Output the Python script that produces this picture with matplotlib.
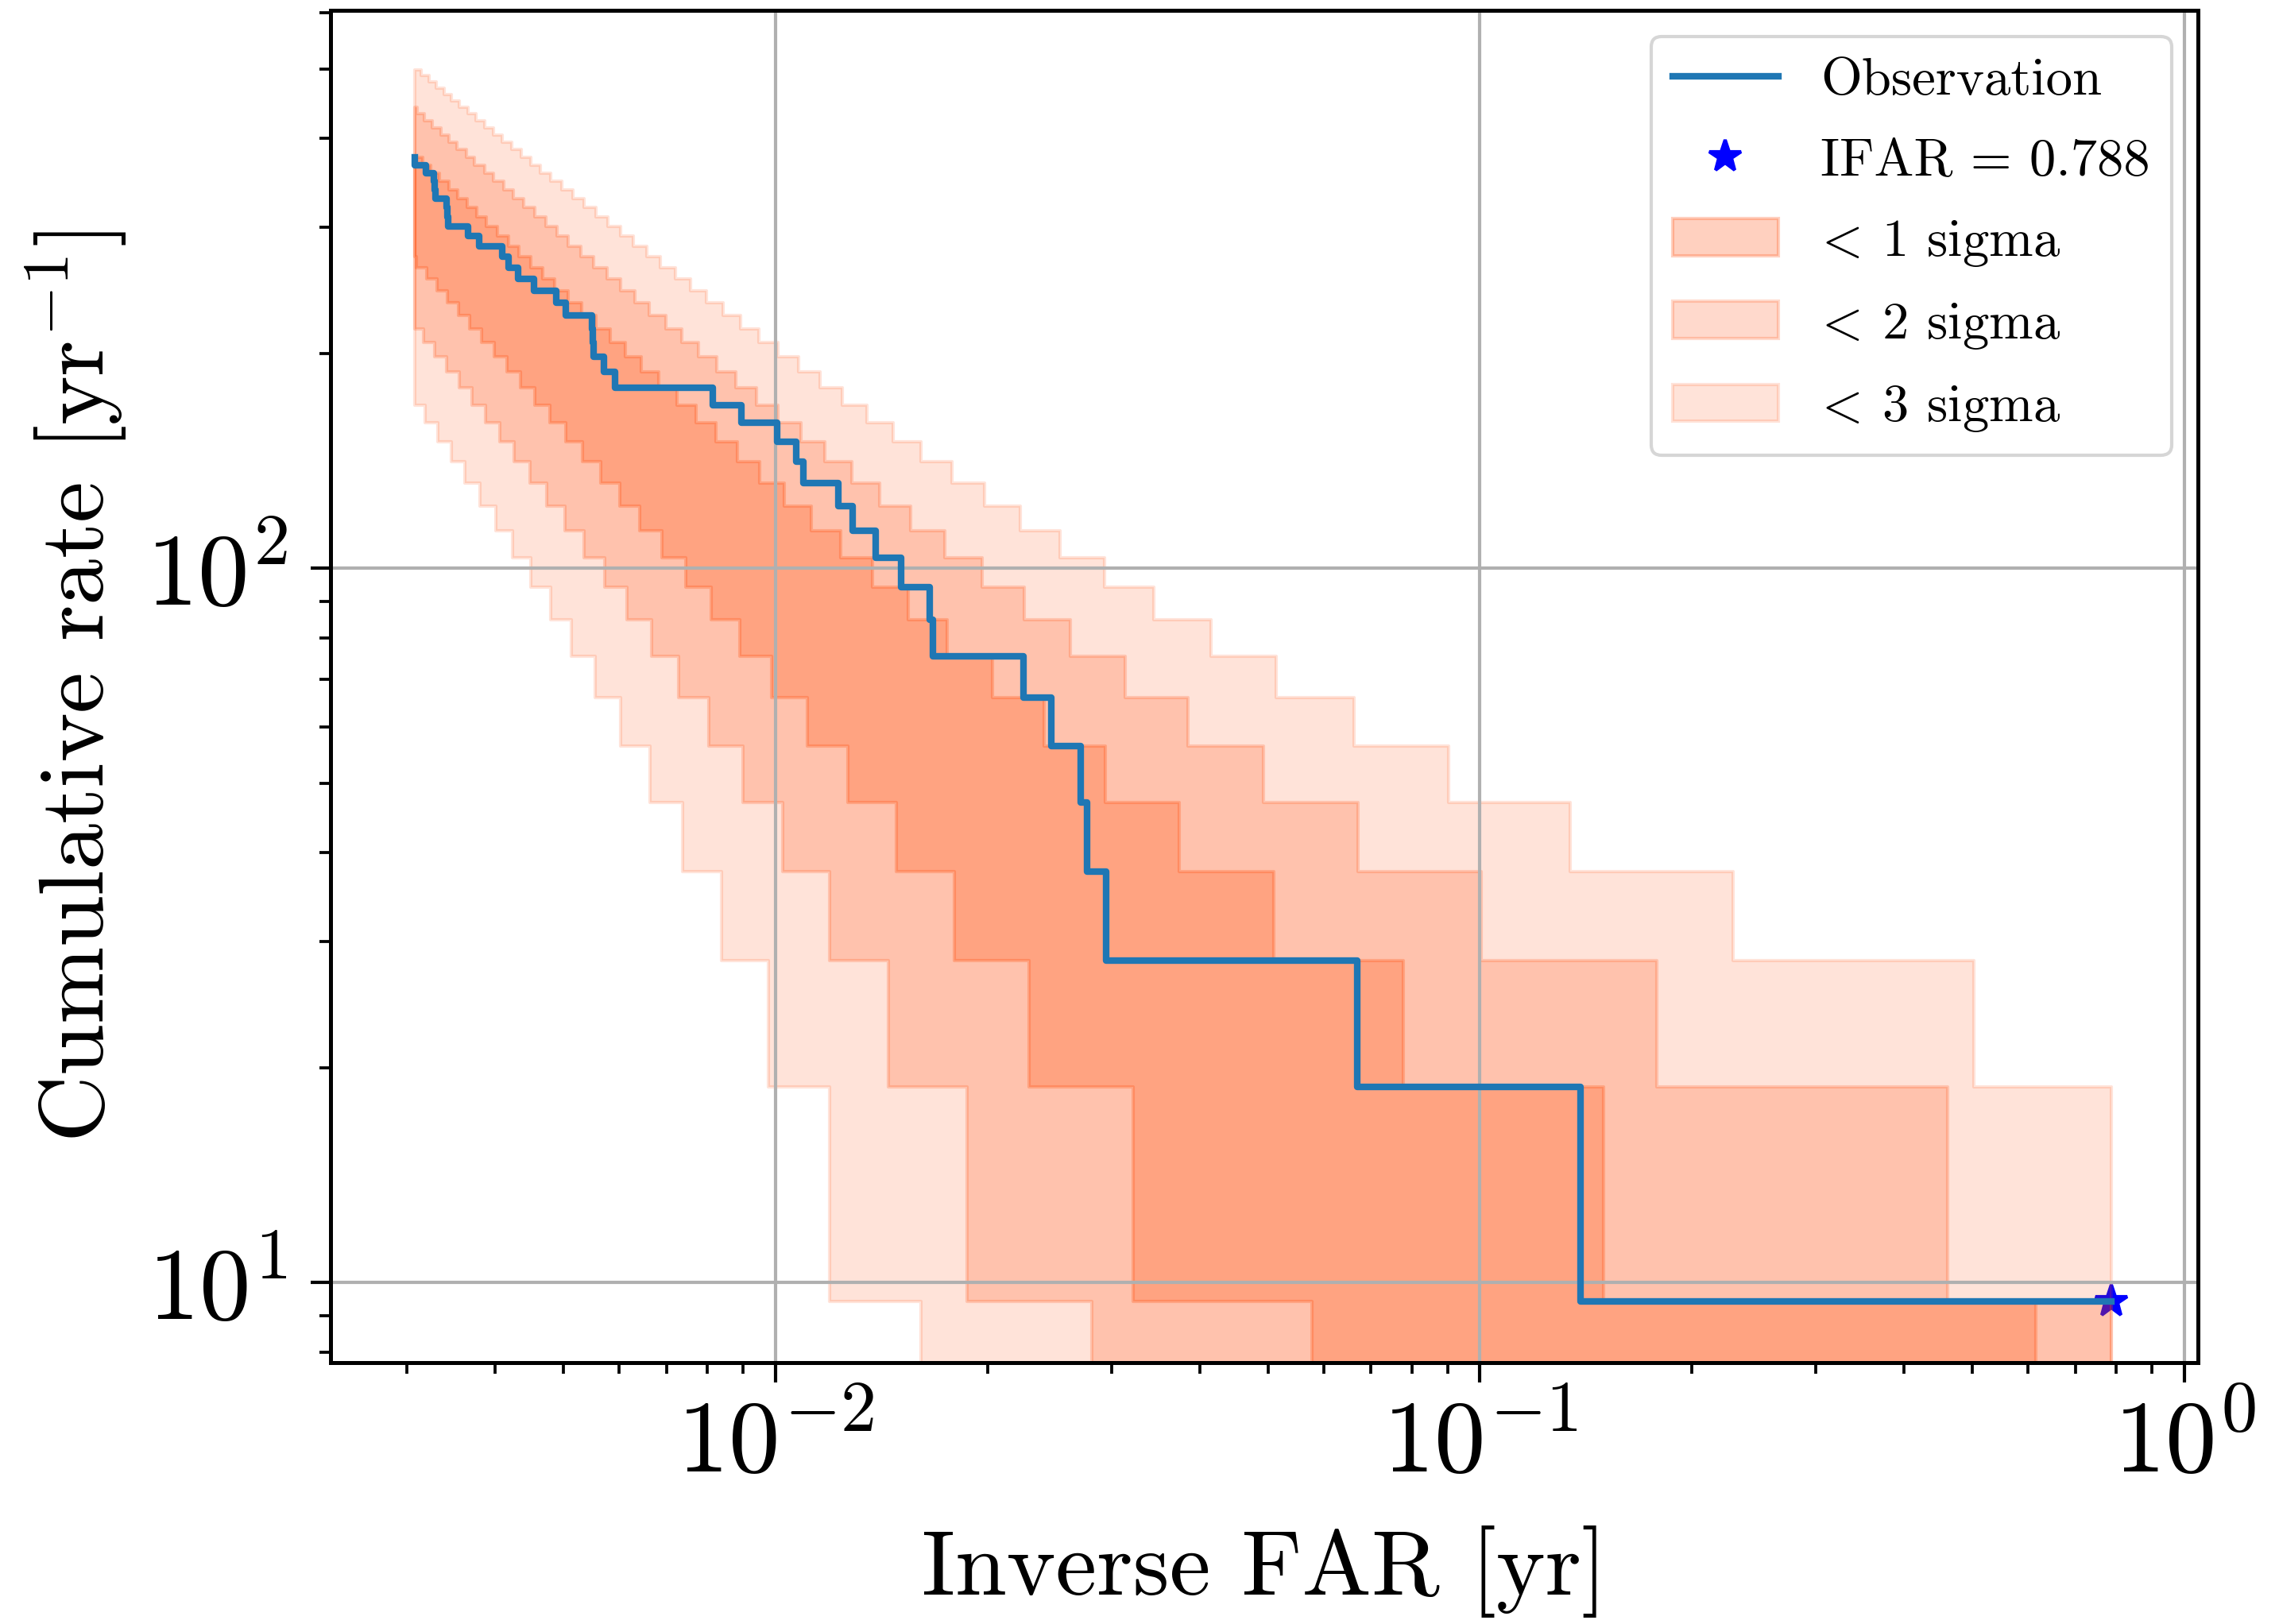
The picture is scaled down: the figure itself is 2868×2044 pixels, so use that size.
import numpy as np
import matplotlib
matplotlib.use('Agg')
import matplotlib.pyplot as plt

# ---------------- data ----------------
# Observed inverse false-alarm rates (yr), ascending
ifar = [0.003073, 0.003190, 0.003272, 0.003280, 0.003290, 0.003412, 0.003423,
        0.003434, 0.003664, 0.003798, 0.004089, 0.004178, 0.004306, 0.004536,
        0.004883, 0.005033, 0.005490, 0.005502, 0.005514, 0.005702, 0.005918,
        0.008151, 0.008946, 0.010053, 0.010698, 0.010957, 0.012283, 0.012868,
        0.013872, 0.015060, 0.016548, 0.016747, 0.022505, 0.024624, 0.027091,
        0.027710, 0.029444, 0.066885, 0.138920, 0.788]
unit_rate = 9.41          # rate of one event over the observing time, yr^-1
star_ifar = 0.788

# Band edges: starting event count at the left end, and log10(IFAR) at which
# the count steps down by one
hi3_start = 53
hi3_drop_log10x = [-2.5025, -2.4921, -2.4816, -2.4708, -2.4598, -2.4485, -2.4370, -2.4252,
                   -2.4131, -2.4006, -2.3879, -2.3748, -2.3614, -2.3475, -2.3333, -2.3187,
                   -2.3036, -2.2880, -2.2720, -2.2554, -2.2382, -2.2204, -2.2020, -2.1829,
                   -2.1630, -2.1423, -2.1207, -2.0981, -2.0746, -2.0498, -2.0238, -1.9965,
                   -1.9676, -1.9370, -1.9046, -1.8699, -1.833, -1.793, -1.750, -1.703,
                   -1.652, -1.596, -1.533, -1.463, -1.382, -1.289, -1.179, -1.044,
                   -0.872, -0.641, -0.299]
hi2_start = 47
hi2_drop_log10x = [-2.509, -2.498, -2.487, -2.475, -2.464, -2.452, -2.439, -2.427,
                   -2.413, -2.400, -2.386, -2.372, -2.357, -2.342, -2.326, -2.310,
                   -2.294, -2.276, -2.258, -2.239, -2.220, -2.200, -2.179, -2.156,
                   -2.133, -2.109, -2.083, -2.056, -2.027, -1.997, -1.964, -1.930,
                   -1.892, -1.852, -1.808, -1.760, -1.707, -1.647, -1.581, -1.504,
                   -1.414, -1.307, -1.173, -0.998, -0.749, -0.336]
hi1_start = 40
hi1_drop_log10x = [-2.501, -2.489, -2.477, -2.464, -2.451, -2.438, -2.424, -2.410,
                   -2.395, -2.379, -2.364, -2.347, -2.330, -2.313, -2.294, -2.275,
                   -2.255, -2.235, -2.213, -2.190, -2.166, -2.140, -2.113, -2.085,
                   -2.054, -2.022, -1.987, -1.949, -1.907, -1.862, -1.812, -1.756,
                   -1.692, -1.619, -1.532, -1.427, -1.293, -1.109, -0.824, -0.211]
lo1_start = 29
lo1_drop_log10x = [-2.5096, -2.4955, -2.4810, -2.4659, -2.4502, -2.4340, -2.4170, -2.3994,
                   -2.3809, -2.3616, -2.3413, -2.3200, -2.2975, -2.2737, -2.2484, -2.2215,
                   -2.1926, -2.1616, -2.1279, -2.0912, -2.0508, -2.0058, -1.9551, -1.8970,
                   -1.8287, -1.7458, -1.6399, -1.4920, -1.2386]
lo2_start = 23
lo2_drop_log10x = [-2.4993, -2.4834, -2.4667, -2.4493, -2.4311, -2.4120, -2.3919, -2.3707,
                   -2.3483, -2.3245, -2.2991, -2.2719, -2.2426, -2.2108, -2.1760, -2.1376,
                   -2.0948, -2.0462, -1.9900, -1.9231, -1.8398, -1.7281, -1.5514]
lo3_start = 18
lo3_drop_log10x = [-2.4975, -2.4795, -2.4606, -2.4406, -2.4194, -2.3969, -2.3729, -2.3472,
                   -2.3195, -2.2893, -2.2563, -2.2197, -2.1787, -2.1317, -2.0767, -2.0098,
                   -1.9230, -1.7936]

band_labels = [r'$\!<\!$ 1 sigma', r'$\!<\!$ 2 sigma', r'$\!<\!$ 3 sigma']
band_alphas = [0.25, 0.2, 0.15]
band_color = 'orangered'
obs_color = '#1f77b4'

# ---------------- figure ----------------
plt.rcParams.update({
    'font.family': 'serif', 'font.serif': ['cmr10'],
    'mathtext.fontset': 'cm', 'axes.formatter.use_mathtext': True,
    'axes.unicode_minus': False,
})
fig = plt.figure(figsize=(2868 / 300, 2044 / 300), dpi=300)
ax = fig.add_axes([0.1449, 0.16096, 0.8195, 0.83283])

xmin, xmax = ifar[0], ifar[-1]
edges = [
    ((hi1_start, hi1_drop_log10x), (lo1_start, lo1_drop_log10x)),
    ((hi2_start, hi2_drop_log10x), (lo2_start, lo2_drop_log10x)),
    ((hi3_start, hi3_drop_log10x), (lo3_start, lo3_drop_log10x)),
]


def counts_at(xg, start, drops):
    return start - np.searchsorted(drops, xg, side='right')


band_handles = []
for ((hs, hd), (ls, ld)), alpha in zip(edges, band_alphas):
    hd = 10.0 ** np.asarray(hd)
    ld = 10.0 ** np.asarray(ld)
    xg = np.unique(np.concatenate([[xmin, xmax], hd, ld]))
    upper = counts_at(xg, hs, hd) * unit_rate
    lower = counts_at(xg, ls, ld) * unit_rate
    h = ax.fill_between(xg, lower, upper, step='post', color=band_color,
                        alpha=alpha, lw=1.0)
    band_handles.append(h)

n_events = np.arange(len(ifar), 0, -1)
obs, = ax.plot(ifar, n_events * unit_rate, drawstyle='steps-pre',
               color=obs_color, lw=2.0, zorder=3)
star, = ax.plot([star_ifar], [unit_rate], '*', color='blue', ms=10,
                ls='none', zorder=0.5)

ax.set_xscale('log')
ax.set_yscale('log')
ax.set_xlim(0.002333, 1.045)
ax.set_ylim(7.73, 604.7)
ax.grid(True, which='major', color='#b0b0b0', lw=1.0)
for sp in ax.spines.values():
    sp.set_linewidth(1.2)
ax.tick_params(which='major', length=6, width=1.0, labelsize=31)
ax.tick_params(which='minor', length=3.3, width=0.9)
ax.tick_params(axis='x', which='major', pad=4.5)
ax.tick_params(axis='y', which='major', pad=7)
ax.set_xlabel('Inverse FAR [yr]', fontsize=28, labelpad=10)
ax.set_ylabel(r'Cumulative rate [yr$^{-1}$]', fontsize=28, labelpad=5)
ax.legend([obs, star] + band_handles,
          ['Observation', 'IFAR = 0.788'] + band_labels,
          loc='upper right', fontsize=16, labelspacing=0.62)
fig.savefig('out.png', dpi=300)
